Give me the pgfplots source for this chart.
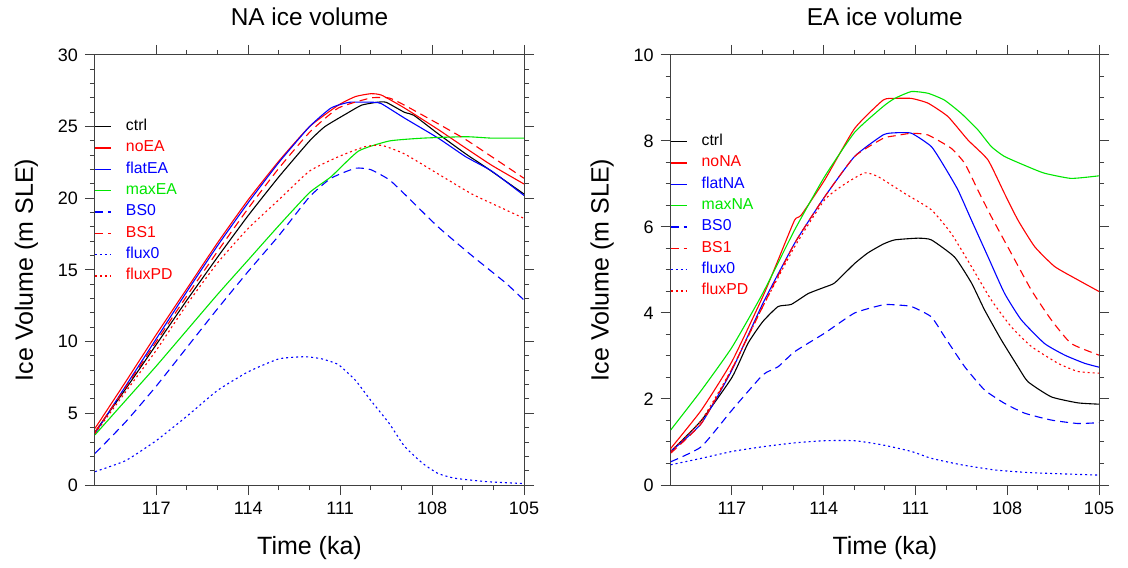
\documentclass[border=0pt]{standalone}
\usepackage{pgfplots}
\pgfplotsset{compat=1.18}
\usepackage{fontspec}
\setmainfont{Liberation Sans}
\definecolor{cR}{RGB}{255,0,0}
\definecolor{cB}{RGB}{0,0,255}
\definecolor{cG}{RGB}{0,230,0}
\tikzset{
  ldash/.style={dash pattern=on 4pt off 2.5pt},
  ldot/.style={dash pattern=on 1pt off 1.5pt},
}
\pgfplotsset{
  panel/.style={
    scale only axis, width=214.5pt, height=215pt,
    x dir=reverse, xmin=105, xmax=119,
    xtick={105,108,111,114,117}, minor x tick num=2,
    tick align=outside, major tick length=5pt, minor tick length=2.5pt,
    axis line style={black!75, line width=0.5pt},
    every tick/.style={black!75, line width=0.5pt},
    /pgf/number format/assume math mode=true,
    tick label style={font=\fontsize{9}{10}\selectfont},
    label style={font=\fontsize{12.5}{14}\selectfont},
    title style={font=\fontsize{12.2}{14}\selectfont, yshift=5pt},
    xlabel={Time (ka)}, ylabel={Ice Volume (m SLE)},
    ylabel style={yshift=3pt},
    xlabel style={yshift=-4pt},
    every axis plot/.append style={line width=0.55pt, smooth, tension=0.3},
  },
}
% legend row: #1 = y (axis description), #2 = line style, #3 = text colour, #4 = text
\newcommand{\legrow}[4]{%
  \draw[line width=0.75pt, #2] ([yshift=0.13pt]axis description cs:0,#1) -- ++(7.9pt,0pt);
  \node[anchor=west, inner sep=0pt, text=#3, font=\fontsize{7.9}{8.5}\selectfont]
     at ([xshift=15.3pt]axis description cs:0,#1) {\strut #4};
}
\begin{document}
\begin{tikzpicture}
\useasboundingbox (0,0) rectangle (564pt,283.5pt);
% ---------------- NA panel ----------------
\begin{axis}[panel, at={(47.5pt,41pt)}, anchor=south west,
  ymin=0, ymax=30, ytick={0,5,...,30}, minor y tick num=4,
  title={NA ice volume}]
\addplot[draw=black] coordinates {(119,3.7)(118,6.7)(117,9.8)(116,12.9)(115,15.9)(114,18.8)(113,21.5)(112,24.0)(111.5,25.0)(110.8,25.9)(110.3,26.5)(109.8,26.7)(109.5,26.7)(108.9,26.0)(108.6,25.8)(107.8,24.5)(106.9,23.1)(106.2,22.1)(105,20.3)};
\addplot[draw=cR] coordinates {(119,3.95)(118,7.2)(117,10.5)(116,13.7)(115,16.9)(114,19.9)(113,22.6)(112,25.0)(111.06,26.5)(110.5,27.1)(110.0,27.3)(109.65,27.2)(108.9,26.3)(107.8,24.8)(106.9,23.5)(106.05,22.3)(105,21.0)};
\addplot[draw=cB] coordinates {(119,3.6)(118,6.9)(117,10.2)(116,13.5)(115,16.7)(114,19.7)(113,22.5)(112,25.0)(111.3,26.3)(110.7,26.7)(109.9,26.7)(109.65,26.6)(108.9,25.6)(107.8,24.2)(106.9,22.9)(106.05,21.9)(105,20.2)};
\addplot[draw=cG] coordinates {(119,3.5)(118,5.9)(117,8.3)(116,10.8)(115,13.3)(114,15.7)(113,18.1)(112,20.4)(111.3,21.5)(110.4,23.3)(109.4,24.0)(108.3,24.2)(106.9,24.3)(106.05,24.2)(105,24.2)};
\addplot[draw=cB, ldash] coordinates {(119,2.2)(118,4.4)(117,6.9)(116,9.6)(115,12.3)(114,14.9)(113,17.4)(112,20.1)(111.3,21.4)(110.5,22.1)(110.0,22.0)(109.4,21.3)(108.9,20.3)(107.8,18.0)(106.7,16.0)(105.6,14.1)(105,12.9)};
\addplot[draw=cR, ldash] coordinates {(119,3.7)(118,6.8)(117,10.0)(116,13.2)(115,16.3)(114,19.3)(113,22.1)(112,24.6)(111.06,26.3)(110,27.0)(109.4,27.0)(108.9,26.5)(107.8,25.2)(106.9,24.1)(106.05,22.9)(105,21.4)};
\addplot[draw=cB, ldot] coordinates {(119,0.93)(118,1.7)(117,3.1)(116,4.8)(115,6.6)(114,7.9)(113,8.8)(112.15,8.95)(111.6,8.8)(111.06,8.4)(110.5,7.3)(110,5.9)(109.4,4.3)(108.9,2.7)(108.3,1.5)(107.8,0.8)(107.25,0.47)(106.2,0.23)(105,0.1)};
\addplot[draw=cR, ldot] coordinates {(119,3.6)(118,6.5)(117,9.4)(116,12.6)(115,15.5)(114,17.9)(113,19.9)(112,21.9)(111.06,22.9)(110.2,23.6)(109.65,23.7)(108.9,23.1)(107.8,21.7)(106.7,20.3)(105.6,19.2)(105,18.6)};
\legrow{0.8326}{draw=black}{black}{ctrl}
\legrow{0.7830}{draw=cR}{cR}{noEA}
\legrow{0.7334}{draw=cB}{cB}{flatEA}
\legrow{0.6838}{draw=cG}{cG}{maxEA}
\legrow{0.6342}{draw=cB, ldash}{cB}{BS0}
\legrow{0.5846}{draw=cR, ldash}{cR}{BS1}
\legrow{0.5350}{draw=cB, ldot}{cB}{flux0}
\legrow{0.4854}{draw=cR, ldot}{cR}{fluxPD}
\end{axis}
% ---------------- EA panel ----------------
\begin{axis}[panel, at={(335.35pt,41pt)}, anchor=south west, width=214.15pt,
  ymin=0, ymax=10, ytick={0,2,...,10}, minor y tick num=3,
  title={EA ice volume}]
\addplot[draw=black] coordinates {(119,0.78)(118,1.5)(117,2.5)(116.47,3.3)(115.99,3.8)(115.49,4.15)(115.06,4.2)(114.51,4.45)(113.97,4.6)(113.64,4.7)(112.99,5.15)(112.55,5.4)(112.06,5.6)(111.68,5.7)(110.92,5.74)(110.48,5.7)(109.72,5.3)(109.17,4.7)(108.74,4.07)(108.19,3.37)(107.65,2.75)(107.32,2.4)(106.56,2.05)(105.69,1.91)(105,1.88)};
\addplot[draw=cR] coordinates {(119,0.85)(118,1.74)(117,2.87)(115.99,4.38)(115.49,5.23)(114.95,6.16)(114.73,6.28)(113.97,7.09)(112.99,8.29)(112.06,8.95)(111.68,8.99)(111.13,8.99)(110.59,8.88)(109.94,8.57)(109.28,8.02)(108.63,7.56)(108.09,6.78)(107.65,6.16)(107.10,5.54)(106.45,5.08)(105.69,4.77)(105,4.5)};
\addplot[draw=cB] coordinates {(119,0.78)(118,1.43)(117,2.67)(115.99,4.22)(114.95,5.62)(113.97,6.7)(112.99,7.64)(112.06,8.14)(111.68,8.19)(111.13,8.18)(110.48,7.87)(110.05,7.4)(109.61,6.86)(109.17,6.16)(108.63,5.31)(108.09,4.46)(107.54,3.84)(106.78,3.29)(106.12,3.02)(105.47,2.83)(105,2.74)};
\addplot[draw=cG] coordinates {(119,1.28)(118,2.2)(117,3.2)(115.99,4.46)(114.95,5.93)(113.97,7.17)(112.99,8.2)(112.06,8.8)(111.68,8.99)(111.13,9.15)(110.59,9.11)(110.05,8.95)(109.50,8.64)(108.96,8.26)(108.52,7.87)(108.09,7.64)(107.32,7.4)(106.78,7.25)(105.91,7.13)(105,7.19)};
\addplot[draw=cB, ldash] coordinates {(119,0.54)(118,0.89)(117,1.74)(115.99,2.56)(115.49,2.75)(114.95,3.1)(113.97,3.53)(112.99,4.0)(112.06,4.19)(111.68,4.19)(111.13,4.15)(110.48,3.91)(110.05,3.45)(109.39,2.75)(108.74,2.21)(108.09,1.9)(107.43,1.67)(106.56,1.51)(105.69,1.43)(105,1.45)};
\addplot[draw=cR, ldash] coordinates {(119,0.74)(118,1.43)(117,2.7)(115.99,4.15)(114.95,5.62)(113.97,6.7)(112.99,7.64)(112.06,8.06)(111.68,8.12)(111.13,8.18)(110.59,8.14)(109.83,7.83)(109.39,7.48)(108.96,6.86)(108.52,6.24)(107.87,5.39)(107.21,4.53)(106.56,3.84)(105.91,3.29)(105,3.02)};
\addplot[draw=cB, ldot] coordinates {(119,0.47)(118,0.62)(117,0.78)(115.99,0.89)(114.95,0.98)(113.97,1.03)(112.99,1.03)(112.06,0.93)(111.13,0.78)(110.48,0.62)(109.50,0.47)(108.41,0.35)(107.32,0.29)(106.23,0.26)(105,0.23)};
\addplot[draw=cR, ldot] coordinates {(119,0.78)(118,1.5)(117,2.7)(115.99,4.15)(114.95,5.54)(113.97,6.63)(113.31,7.0)(112.66,7.26)(112.22,7.17)(111.35,6.78)(110.48,6.4)(109.83,5.85)(109.17,5.08)(108.52,4.3)(107.87,3.68)(107.21,3.22)(106.34,2.83)(105.69,2.64)(105,2.6)};
\legrow{0.7977}{draw=black}{black}{ctrl}
\legrow{0.7481}{draw=cR}{cR}{noNA}
\legrow{0.6985}{draw=cB}{cB}{flatNA}
\legrow{0.6489}{draw=cG}{cG}{maxNA}
\legrow{0.5993}{draw=cB, ldash}{cB}{BS0}
\legrow{0.5497}{draw=cR, ldash}{cR}{BS1}
\legrow{0.5001}{draw=cB, ldot}{cB}{flux0}
\legrow{0.4505}{draw=cR, ldot}{cR}{fluxPD}
\end{axis}
\end{tikzpicture}
\end{document}
